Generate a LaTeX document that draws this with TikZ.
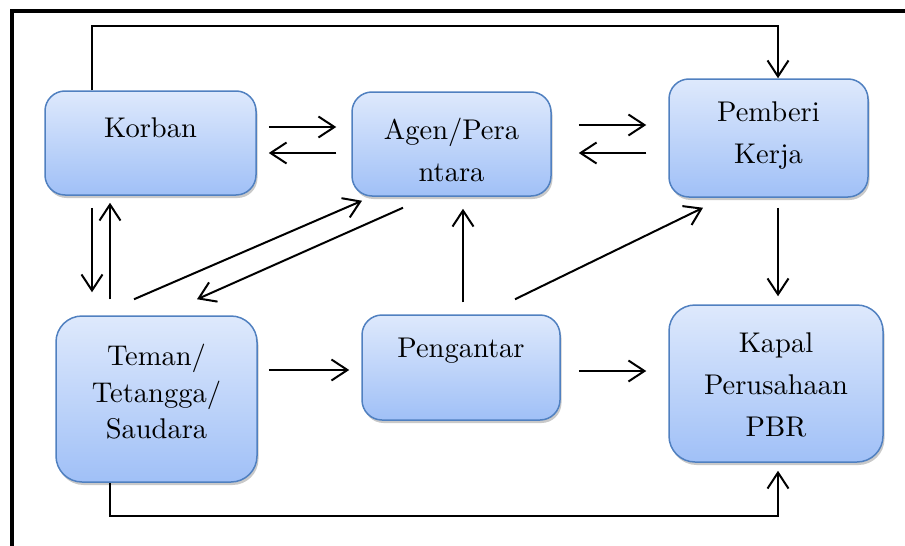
\documentclass[tikz,border=0pt]{standalone}
\usepackage{tikz}
\usetikzlibrary{calc,shadows,arrows.meta}
\font\boxfont="[lmroman10-regular.otf]" at 28.5pt
\definecolor{boxtop}{RGB}{222,233,252}
\definecolor{boxbot}{RGB}{160,192,247}
\definecolor{boxline}{RGB}{80,128,192}
\tikzset{
	pbox/.style={draw=boxline, line width=1.5pt, top color=boxtop, bottom color=boxbot, rounded corners=#1, inner sep=0pt,
		drop shadow={shadow xshift=1.5pt, shadow yshift=-3pt, opacity=0.3, fill=black!70}},
	pbox/.default=20pt,
	ptext/.style={font=\fontsize{28.5}{42}\selectfont\boxfont, align=center, inner sep=0pt},
	arr/.style={line width=2pt, -{Straight Barb[length=16pt, width=21pt, line width=2pt]}},
	lup/.style={line width=1.7pt, -{Straight Barb[length=16pt, width=21pt, line width=2pt]}}
}
\begin{document}
\begin{tikzpicture}[x=1pt, y=-1pt]
			%%%%% START %%%%%
			\useasboundingbox (0, 0) rectangle (905, 546);
			
			\draw[line width=4.5pt] (12, 548) -- (12, 11) -- (907, 11);
			
			\node[pbox, minimum width=211pt, minimum height=104pt] (korban) at (150.5, 143) {};
			\node[pbox, minimum width=199pt, minimum height=104pt] (agen) at (451.5, 144) {};
			\node[pbox, minimum width=199pt, minimum height=118pt] (pemberi) at (768.5, 138) {};
			\node[pbox=26pt, minimum width=201pt, minimum height=166pt] (teman) at (156.5, 399) {};
			\node[pbox, minimum width=198pt, minimum height=105pt] (pengantar) at (461, 367.5) {};
			\node[pbox=26pt, minimum width=214pt, minimum height=157pt] (kapal) at (776, 383.5) {};
			
			\node[ptext] (korbantxt) at ([yshift=15pt]korban.center) {Korban};
			\node[ptext] (agentxt) at ([yshift=-6pt]agen.center) {Agen/Pera\\ntara};
			\node[ptext] (pemberitxt) at ([yshift=2pt]pemberi.center) {Pemberi\\Kerja};
			\node[ptext, font=\fontsize{28.5}{36.5}\selectfont\boxfont] (temantxt) at ([yshift=7pt]teman.center) {Teman/\\Tetangga/\\Saudara};
			\node[ptext] (pengantartxt) at ([yshift=17pt]pengantar.center) {Pengantar};
			\node[ptext] (kapaltxt) at ([yshift=-1.5pt]kapal.center) {Kapal\\Perusahaan\\PBR};
			
			\draw[arr] ($(korban.east)+(12, -16)$) -- ($(agen.west)+(-15, -17)$);
			\draw[arr] ($(agen.west)+(-15, 9)$) -- ($(korban.east)+(12, 10)$);
			\draw[arr] ($(agen.east)+(27, -19)$) -- ($(pemberi.west)+(-22, -13)$);
			\draw[arr] ($(pemberi.west)+(-22, 15)$) -- ($(agen.east)+(27, 9)$);
			
			\draw[arr] ($(korban.south)+(-58.5, 12)$) -- ($(teman.north)+(-64.5, -23)$);
			\draw[arr] ($(teman.north)+(-46.5, -16)$) -- ($(korban.south)+(-40.5, 7)$);
			\draw[arr] ($(teman.north)+(-22.5, -16)$) -- ($(agen.south)+(-89.5, 4)$);
			\draw[arr] ($(agen.south)+(-48.5, 11)$) -- ($(teman.north)+(40.5, -16)$);
			\draw[arr] ($(pengantar.north)+(2, -12)$) -- ($(agen.south)+(11.5, 12)$);
			\draw[arr] ($(pengantar.north)+(54, -15)$) -- ($(pemberi.south)+(-65.5, 10)$);
			\draw[arr] ($(pemberi.south)+(9.5, 10)$) -- ($(kapal.north)+(2, -8)$);
			
			\draw[arr] ($(teman.east)+(11, -29)$) -- ($(pengantar.west)+(-12, 2.5)$);
			\draw[arr] ($(pengantar.east)+(18, 3.5)$) -- ($(kapal.west)+(-22, -12.5)$);
			
			\draw[lup] ($(korban.north)+(-58.5, 0)$) -- ++(0, -64) -| ($(pemberi.north)+(9.5, 0)$);
			\draw[lup] ($(teman.south)+(-46.5, 0)$) -- ++(0, 33) -| ($(kapal.south)+(2, 8)$);
			
			%%%%% END %%%%%
		\end{tikzpicture}
\end{document}
